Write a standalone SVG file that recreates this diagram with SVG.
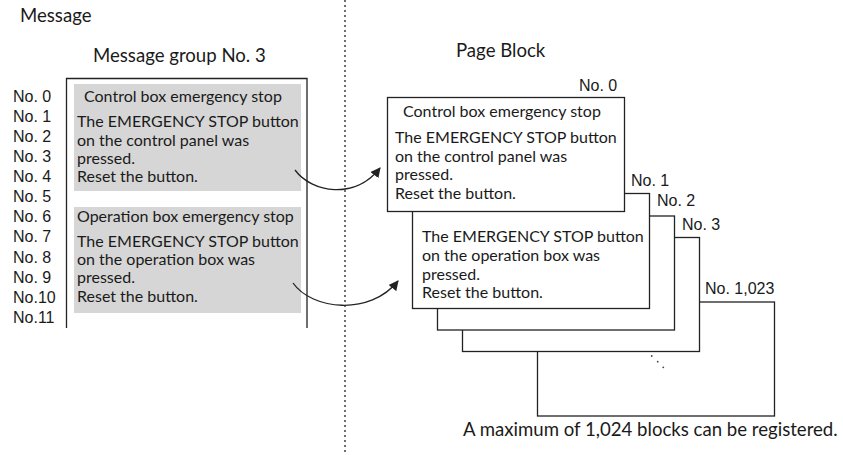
<svg xmlns="http://www.w3.org/2000/svg" width="843" height="455" viewBox="0 0 843 455">
<defs>
<style>
.t{font-family:Lato,"Noto Sans","DejaVu Sans",sans-serif;font-size:16px;fill:#1a1a1a}
.h{font-family:Lato,"Noto Sans","DejaVu Sans",sans-serif;font-size:18.6px;fill:#1a1a1a}
.n{font-family:"Liberation Sans",Arial,sans-serif;font-size:16px;fill:#1a1a1a}
.box{fill:#fff;stroke:#222;stroke-width:1.3}
.gray{fill:#d6d6d6}
.ln{fill:none;stroke:#222;stroke-width:1.3}
.arr{fill:none;stroke:#222;stroke-width:1.3;marker-end:url(#ah)}
</style>
<marker id="ah" viewBox="0 0 10 10" refX="9" refY="5" markerWidth="10" markerHeight="10" markerUnits="userSpaceOnUse" orient="auto">
<path d="M0,0 L10,5 L0,10 Z" fill="#222"/>
</marker>
</defs>
<rect width="843" height="455" fill="#fff"/>

<g id="divider">
<line x1="345" y1="0" x2="345" y2="455" stroke="#222" stroke-width="1.3" stroke-dasharray="2,3"/>
</g>

<g id="titles">
<text class="h" x="20" y="22">Message</text>
<text class="h" x="93" y="62">Message group No. 3</text>
<text class="h" x="456" y="57">Page Block</text>
</g>

<g id="message-group">
<path class="ln" d="M66.5,328 V78.5 H307 V328"/>
<rect class="gray" x="74" y="84" width="227" height="107"/>
<rect class="gray" x="74" y="207" width="227" height="106"/>
<text class="t" x="84" y="102">Control box emergency stop</text>
<text class="t" x="77" y="127">The EMERGENCY STOP button</text>
<text class="t" x="77" y="146">on the control panel was</text>
<text class="t" x="77" y="164">pressed.</text>
<text class="t" x="77" y="182">Reset the button.</text>
<text class="t" x="77" y="222">Operation box emergency stop</text>
<text class="t" x="77" y="247">The EMERGENCY STOP button</text>
<text class="t" x="77" y="265">on the operation box was</text>
<text class="t" x="77" y="283">pressed.</text>
<text class="t" x="77" y="302">Reset the button.</text>
</g>

<g id="numbers">
<text class="n" x="13" y="102">No. 0</text>
<text class="n" x="13" y="122">No. 1</text>
<text class="n" x="13" y="142">No. 2</text>
<text class="n" x="13" y="162">No. 3</text>
<text class="n" x="13" y="182">No. 4</text>
<text class="n" x="13" y="202">No. 5</text>
<text class="n" x="13" y="222">No. 6</text>
<text class="n" x="13" y="242">No. 7</text>
<text class="n" x="13" y="263">No. 8</text>
<text class="n" x="13" y="283">No. 9</text>
<text class="n" x="13" y="303">No.10</text>
<text class="n" x="13" y="323">No.11</text>
</g>

<g id="block-1023">
<rect class="box" x="537.5" y="302" width="237" height="114"/>
<text class="n" x="705" y="294">No. 1,023</text>
</g>
<g id="dots">
<circle cx="651.7" cy="356" r="0.9" fill="#444"/>
<circle cx="657.7" cy="361.7" r="0.9" fill="#444"/>
<circle cx="663.3" cy="367.3" r="0.9" fill="#444"/>
</g>
<g id="block-3">
<rect class="box" x="462.5" y="237.5" width="237" height="114"/>
<text class="n" x="682" y="230">No. 3</text>
</g>
<g id="block-2">
<rect class="box" x="437.5" y="216" width="237" height="114"/>
<text class="n" x="657" y="206">No. 2</text>
</g>
<g id="block-1">
<rect class="box" x="412.5" y="193.5" width="237" height="115"/>
<text class="n" x="631" y="186">No. 1</text>
<text class="t" x="422" y="242">The EMERGENCY STOP button</text>
<text class="t" x="422" y="261">on the operation box was</text>
<text class="t" x="422" y="280">pressed.</text>
<text class="t" x="422" y="298">Reset the button.</text>
</g>
<g id="block-0">
<rect class="box" x="387.5" y="97.5" width="237" height="114"/>
<text class="n" x="579" y="91">No. 0</text>
<text class="t" x="403" y="117">Control box emergency stop</text>
<text class="t" x="395" y="143">The EMERGENCY STOP button</text>
<text class="t" x="395" y="162">on the control panel was</text>
<text class="t" x="395" y="180">pressed.</text>
<text class="t" x="395" y="199">Reset the button.</text>
</g>

<g id="connectors">
<path class="arr" d="M295,170 C312,193 355,200 380,168"/>
<path class="arr" d="M293,283 C312,310 370,316 398,281"/>
</g>

<g id="note">
<text class="h" x="463" y="436">A maximum of 1,024 blocks can be registered.</text>
</g>
</svg>
